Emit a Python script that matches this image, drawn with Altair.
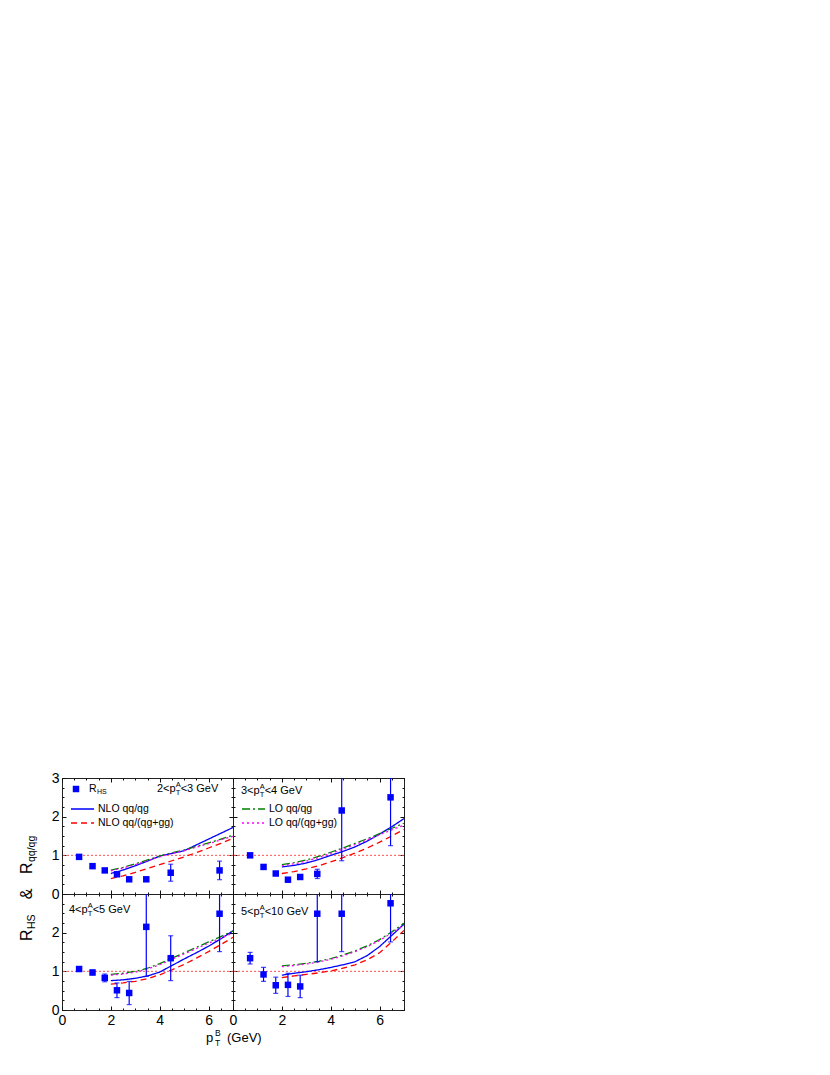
import altair as alt
import pandas as pd

FONT = "Liberation Sans"

# ---------------- data ----------------
rhs_x = [0.7, 1.25, 1.75, 2.25, 2.75, 3.45, 4.45, 6.45]

rhs_y_23 = [0.96, 0.72, 0.61, 0.51, 0.38, 0.38, 0.55, 0.61]
rhs_e_23 = [0.03, 0.03, 0.03, 0.04, 0.03, 0.03, 0.22, 0.24]

rhs_y_34 = [1.00, 0.70, 0.53, 0.37, 0.44, 0.52, 2.16, 2.50]
rhs_e_34 = [0.03, 0.03, 0.04, 0.04, 0.06, 0.12, 1.30, 1.25]

rhs_y_45 = [1.06, 0.97, 0.83, 0.51, 0.44, 2.15, 1.34, 2.49]
rhs_e_45 = [0.04, 0.06, 0.10, 0.19, 0.30, 1.28, 0.58, 0.98]

rhs_y_510 = [1.34, 0.92, 0.64, 0.65, 0.61, 2.49, 2.49, 2.76]
rhs_e_510 = [0.15, 0.18, 0.21, 0.30, 0.29, 1.24, 0.98, 1.00]

curve_x = [2.0, 2.5, 3.0, 3.5, 4.0, 4.5, 5.0, 5.5, 6.0, 6.5, 7.0]

nlo_qg_23 = [0.53, 0.62, 0.73, 0.85, 0.98, 1.05, 1.12, 1.27, 1.42, 1.57, 1.72]
nlo_all_23 = [0.40, 0.47, 0.56, 0.66, 0.76, 0.86, 0.96, 1.07, 1.19, 1.31, 1.44]
lo_qg_23 = [0.62, 0.69, 0.78, 0.88, 0.98, 1.07, 1.14, 1.23, 1.32, 1.42, 1.52]
lo_all_23 = [0.60, 0.67, 0.76, 0.86, 0.96, 1.05, 1.12, 1.21, 1.30, 1.40, 1.49]

nlo_qg_34 = [0.70, 0.74, 0.80, 0.89, 1.00, 1.10, 1.22, 1.37, 1.55, 1.74, 1.95]
nlo_all_34 = [0.53, 0.58, 0.65, 0.73, 0.83, 0.94, 1.06, 1.19, 1.34, 1.50, 1.67]
lo_qg_34 = [0.76, 0.81, 0.88, 0.97, 1.08, 1.19, 1.31, 1.43, 1.56, 1.70, 1.83]
lo_all_34 = [0.73, 0.78, 0.85, 0.94, 1.05, 1.16, 1.28, 1.40, 1.53, 1.66, 1.78]

nlo_qg_45 = [0.76, 0.78, 0.82, 0.88, 0.98, 1.15, 1.32, 1.48, 1.65, 1.84, 2.05]
nlo_all_45 = [0.67, 0.70, 0.74, 0.81, 0.91, 1.04, 1.18, 1.34, 1.51, 1.69, 1.88]
lo_qg_45 = [0.92, 0.95, 1.00, 1.08, 1.20, 1.34, 1.48, 1.62, 1.76, 1.90, 2.04]
lo_all_45 = [0.90, 0.93, 0.98, 1.06, 1.17, 1.31, 1.45, 1.59, 1.73, 1.86, 1.99]

nlo_qg_510 = [0.90, 0.95, 0.99, 1.04, 1.10, 1.17, 1.25, 1.41, 1.64, 1.93, 2.22]
nlo_all_510 = [0.84, 0.88, 0.92, 0.96, 1.01, 1.08, 1.17, 1.30, 1.48, 1.76, 2.06]
lo_qg_510 = [1.14, 1.17, 1.21, 1.26, 1.33, 1.42, 1.53, 1.66, 1.82, 2.02, 2.24]
lo_all_510 = [1.12, 1.15, 1.19, 1.24, 1.31, 1.40, 1.51, 1.64, 1.80, 1.99, 2.20]

SERIES = ["NLO qq/qg", "NLO qq/(qg+gg)", "LO qq/qg", "LO qq/(qg+gg)"]
COLORS = ["#0000ff", "#ff0000", "#008000", "#ff00ff"]
DASHES = [[1, 0], [6, 4], [8, 3, 2, 3], [2, 3]]

x_major = [0, 2, 4, 6]
x_minor = [0.5 * i for i in range(15)]
y_major = [0, 1, 2, 3]
y_minor = [0.25 * i for i in range(13)]

W, H = 171, 116
BLUE = "#0000ff"

xs = alt.Scale(domain=[0, 7], nice=False, zero=False)
ys = alt.Scale(domain=[0, 3], nice=False, zero=False)


def axis(orient, values, size, labels=False, label_expr=None):
    kw = dict(orient=orient, values=values, offset=-size, tickSize=size,
              labels=labels, domain=False, grid=False, title=None,
              ticks=True, tickColor="#111", tickWidth=1)
    if labels:
        kw.update(labelFont=FONT, labelFontSize=14, labelColor="black",
                  labelPadding=3, labelFlush=False, labelOverlap=False)
        if label_expr:
            kw["labelExpr"] = label_expr
    return alt.Axis(**kw)


def txt(s, x, y, size=10.5, align="left", baseline="middle", angle=None):
    kw = dict(text=s, fontSize=size, font=FONT, align=align,
              baseline=baseline, color="black")
    if angle is not None:
        kw["angle"] = angle
    return alt.Chart(alt.Data(values=[{}])).mark_text(**kw).encode(
        x=alt.value(x), y=alt.value(y))


def pt_label(lo, hi, x, y):
    w1 = 18.7
    return [txt(f"{lo}<p", x, y, 11), txt("A", x + w1, y - 4, 7.5),
            txt("T", x + w1, y + 4, 7.5), txt(f"<{hi} GeV", x + w1 + 5, y, 11)]


def legend_line(color, dash, y, label):
    ln = alt.Chart(alt.Data(values=[{}])).mark_rule(
        color=color, strokeDash=dash, strokeWidth=1.3).encode(
        x=alt.value(9), x2=alt.value(32), y=alt.value(y))
    return [ln, txt(label, 36, y, 10.5)]


def panel(rhs_y, rhs_e, curves, xlab, ylab, ylab_expr, extras):
    pts = pd.DataFrame({"x": rhs_x, "y": rhs_y, "e": rhs_e})
    rows = []
    for s, vals in zip(SERIES, curves):
        for xv, yv in zip(curve_x, vals):
            rows.append({"series": s, "x": xv, "y": yv})
    cdf = pd.DataFrame(rows)

    ref = alt.Chart(alt.Data(values=[{}])).mark_rule(
        color="#ff5050", strokeDash=[2, 2], strokeWidth=1).encode(
        y=alt.YDatum(1, type="quantitative", scale=ys, axis=None))

    lines = alt.Chart(cdf).mark_line(strokeWidth=1.3).encode(
        x=alt.X("x:Q", scale=xs, axis=axis("bottom", x_major, 4, labels=xlab)),
        y=alt.Y("y:Q", scale=ys,
                axis=axis("left", y_major, 4, labels=ylab, label_expr=ylab_expr)),
        color=alt.Color("series:N", scale=alt.Scale(domain=SERIES, range=COLORS),
                        legend=None),
        strokeDash=alt.StrokeDash("series:N",
                                  scale=alt.Scale(domain=SERIES, range=DASHES),
                                  legend=None),
    )

    bars = alt.Chart(pts).transform_calculate(
        lo="datum.y - datum.e", hi="min(datum.y + datum.e, 3)"
    ).mark_rule(color=BLUE, strokeWidth=1.2).encode(
        x=alt.X("x:Q", scale=xs, axis=axis("bottom", x_minor, 2)),
        y=alt.Y("lo:Q", scale=ys, axis=axis("left", y_minor, 2)),
        y2="hi:Q",
    )

    caps = alt.Chart(pts).transform_calculate(
        lo="datum.y - datum.e", hi="datum.y + datum.e"
    ).transform_fold(["lo", "hi"], as_=["k", "v"]).transform_filter(
        "datum.v <= 3"
    ).mark_tick(orient="horizontal", size=5, thickness=1.2, color=BLUE).encode(
        x=alt.X("x:Q", scale=xs, axis=axis("top", x_major, 4)),
        y=alt.Y("v:Q", scale=ys, axis=axis("right", y_major, 4)),
    )

    sq = alt.Chart(pts).mark_square(size=42, color=BLUE, opacity=1).encode(
        x=alt.X("x:Q", scale=xs, axis=axis("top", x_minor, 2)),
        y=alt.Y("y:Q", scale=ys, axis=axis("right", y_minor, 2)),
    )

    return alt.layer(ref, lines, bars, caps, sq, *extras).resolve_axis(
        x="independent", y="independent").properties(width=W, height=H)


# ---- panels ----
tl_extra = (
    [alt.Chart(alt.Data(values=[{}])).mark_square(size=42, color=BLUE, opacity=1)
     .encode(x=alt.value(14), y=alt.value(11)),
     txt("R", 27, 11, 10.5), txt("HS", 35, 14, 7)]
    + legend_line(BLUE, [1, 0], 31, "NLO qq/qg")
    + legend_line("#ff0000", [6, 4], 45, "NLO qq/(qg+gg)")
    + pt_label(2, 3, 95, 11)
)
tr_extra = (
    pt_label(3, 4, 8, 13)
    + legend_line("#008000", [8, 3, 2, 3], 31, "LO qq/qg")
    + legend_line("#ff00ff", [2, 3], 45, "LO qq/(qg+gg)")
)
bl_extra = pt_label(4, 5, 7, 16)
br_extra = pt_label(5, 10, 8, 18)

TL = panel(rhs_y_23, rhs_e_23, [nlo_qg_23, nlo_all_23, lo_qg_23, lo_all_23],
           False, True, None, tl_extra)
TR = panel(rhs_y_34, rhs_e_34, [nlo_qg_34, nlo_all_34, lo_qg_34, lo_all_34],
           False, False, None, tr_extra)
BL = panel(rhs_y_45, rhs_e_45, [nlo_qg_45, nlo_all_45, lo_qg_45, lo_all_45],
           True, True, "datum.value < 3 ? datum.label : ''", bl_extra)
BR = panel(rhs_y_510, rhs_e_510, [nlo_qg_510, nlo_all_510, lo_qg_510, lo_all_510],
           True, False, None, br_extra)

grid = alt.concat(TL, TR, BL, BR, columns=2, spacing=0, bounds="flush")

# ---- axis titles ----
ytitle = alt.layer(
    txt("R", 22, 163, 16, baseline="alphabetic", angle=270),
    txt("HS", 25, 151, 10.5, baseline="alphabetic", angle=270),
    txt("&", 22, 116, 16, align="center", baseline="alphabetic", angle=270),
    txt("R", 22, 96, 16, baseline="alphabetic", angle=270),
    txt("qq/qg", 25, 84, 10.5, baseline="alphabetic", angle=270),
).properties(width=39, height=2 * H, view=alt.ViewBackground(stroke="transparent"))

xtitle = alt.layer(
    txt("p", 196, 14, 13, baseline="alphabetic"),
    txt("B", 205, 8, 8.5, baseline="alphabetic"),
    txt("T", 205, 18, 8.5, baseline="alphabetic"),
    txt("(GeV)", 217, 14, 13, baseline="alphabetic"),
).properties(width=392, height=24, view=alt.ViewBackground(stroke="transparent"))

top = alt.hconcat(ytitle, grid, spacing=0)
chart = alt.vconcat(top, xtitle, spacing=-15).properties(
    padding={"left": 1, "top": 762, "right": 5, "bottom": 5}
).configure_view(stroke="#222", strokeWidth=1)

chart.save("out.html", embed_options={"renderer": "svg", "actions": False})
